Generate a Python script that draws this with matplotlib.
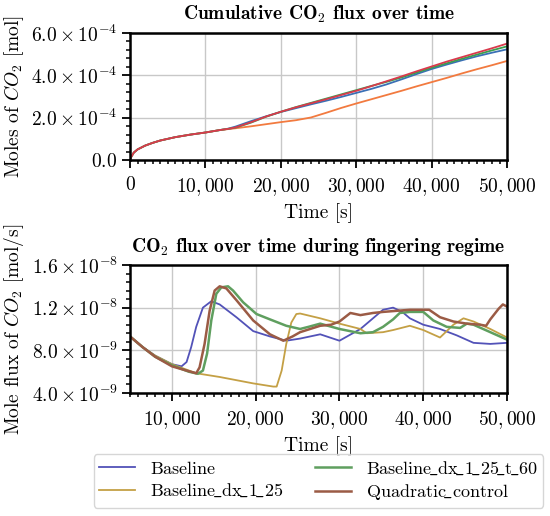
import numpy as np
import matplotlib
matplotlib.use("Agg")
import matplotlib.pyplot as plt
from matplotlib.ticker import FixedLocator, MultipleLocator, FuncFormatter

plt.rcParams["font.family"] = "serif"
plt.rcParams["font.serif"] = ["cmr10"]
plt.rcParams["mathtext.fontset"] = "cm"
plt.rcParams["axes.formatter.use_mathtext"] = True
plt.rcParams["font.size"] = 14

labels = [r"$\mathrm{Baseline}$", r"$\mathrm{Baseline\!\_dx\!\_1\!\_25}$",
          r"$\mathrm{Baseline\!\_dx\!\_1\!\_25\!\_t\!\_60}$", r"$\mathrm{Quadratic\!\_control}$"]

# cumulative CO2 [1e-4 mol]
t_cum = [0, 500, 1000, 2000, 3000, 4000, 6000, 8000, 10000, 12000, 13000, 14000, 16000,
         18000, 20000, 22000, 24000, 26000, 28000, 30000, 32000, 34000, 36000, 38000,
         40000, 42000, 44000, 46000, 48000, 50000]
cum_base = [0.05, 0.35, 0.5, 0.68, 0.81, 0.92, 1.08, 1.2, 1.3, 1.42, 1.48, 1.58, 1.83,
            2.06, 2.27, 2.45, 2.63, 2.8, 2.98, 3.17, 3.36, 3.57, 3.81, 4.06,
            4.3, 4.51, 4.71, 4.9, 5.07, 5.23]
cum_dx = [0.05, 0.35, 0.5, 0.68, 0.81, 0.92, 1.08, 1.2, 1.3, 1.42, 1.46, 1.5, 1.59,
          1.69, 1.79, 1.88, 2.01, 2.23, 2.46, 2.67, 2.87, 3.07, 3.27, 3.48,
          3.68, 3.88, 4.09, 4.29, 4.48, 4.68]
cum_t60 = [0.05, 0.35, 0.5, 0.68, 0.81, 0.92, 1.08, 1.2, 1.3, 1.42, 1.47, 1.53, 1.76,
           2.04, 2.28, 2.5, 2.7, 2.9, 3.1, 3.3, 3.5, 3.69, 3.9, 4.13,
           4.36, 4.57, 4.78, 4.98, 5.18, 5.37]
cum_quad = [0.05, 0.35, 0.5, 0.68, 0.81, 0.92, 1.08, 1.2, 1.3, 1.42, 1.47, 1.54, 1.78,
            2.05, 2.28, 2.49, 2.68, 2.87, 3.07, 3.27, 3.49, 3.72, 3.95, 4.19,
            4.42, 4.65, 4.86, 5.07, 5.28, 5.5]

# CO2 flux [1e-9 mol/s]
t_base = [5000, 6500, 8000, 10000, 11150, 11750, 12300, 12900, 13700, 14700, 15700, 17700,
          19700, 21700, 23650, 25300, 27700, 30000, 32500, 34000, 35200, 36400, 37500,
          38400, 40000, 42000, 44000, 46000, 48000, 50000]
flux_base = [9.3, 8.3, 7.5, 6.7, 6.5, 6.9, 8.3, 10.2, 12.0, 12.6, 12.3, 11.1,
             9.8, 9.3, 8.9, 9.1, 9.5, 8.9, 10.0, 11.0, 11.8, 12.0, 11.6,
             11.0, 10.4, 10.0, 9.4, 8.7, 8.6, 8.7]
t_dx = [5000, 6500, 8000, 10000, 12900, 15700, 19700, 22100, 22500, 23100, 23650, 24250,
        24850, 25300, 27700, 30000, 32500, 33250, 35200, 36400, 38400, 40000, 42000,
        43600, 44800, 46000, 48000, 50000]
flux_dx = [9.3, 8.3, 7.5, 6.7, 5.85, 5.5, 4.9, 4.6, 4.6, 6.1, 8.6, 10.6,
           11.4, 11.45, 11.0, 10.5, 10.0, 9.6, 9.7, 9.9, 10.3, 9.9, 9.2,
           10.4, 11.0, 10.7, 10.0, 9.2]
t_t60 = [5000, 6500, 8000, 10000, 12000, 13100, 13700, 14200, 14700, 15300, 15900, 16700,
         17300, 18500, 20100, 21700, 23650, 25300, 26300, 27700, 30000, 32500, 34000,
         35200, 36400, 37200, 38400, 40000, 41200, 42800, 44400, 45200, 46000, 48000, 50000]
flux_t60 = [9.3, 8.3, 7.4, 6.6, 6.0, 5.8, 6.1, 7.7, 10.8, 13.3, 13.9, 14.0,
            13.6, 12.5, 11.4, 10.9, 10.3, 10.0, 10.2, 10.5, 10.0, 9.6, 9.7,
            10.2, 10.9, 11.5, 11.6, 11.6, 10.8, 10.2, 10.1, 10.5, 10.4, 9.7, 9.0]
t_quad = [5000, 6500, 8000, 10000, 11750, 12900, 13300, 13900, 14500, 15100, 15700, 16500,
          17700, 19700, 21700, 23300, 24400, 25300, 27700, 29000, 30000, 31300, 32500,
          34000, 35200, 38400, 40700, 42000, 43600, 45200, 46800, 47500, 48000, 49000,
          49500, 50000]
flux_quad = [9.3, 8.3, 7.4, 6.5, 6.1, 5.85, 6.4, 8.6, 11.7, 13.6, 14.0, 13.8,
             12.7, 10.8, 9.5, 8.9, 9.3, 9.7, 10.3, 10.4, 10.7, 11.5, 11.3,
             11.5, 11.6, 11.8, 11.8, 11.1, 10.7, 10.5, 10.4, 10.3, 10.9, 11.9,
             12.3, 12.1]

top_colors = ["#3b70b5", "#f27a3f", "#3a9f4f", "#d93a4c"]
bot_colors = ["#5252b8", "#c4a045", "#5f9f5f", "#9b5b45"]


def fmt_x(v, pos):
    if v == 0:
        return "$0$"
    return "$" + "{:,}".format(int(v)) + "$"


def fmt_sci(v, pos):
    if v == 0:
        return "$0.0$"
    e = int(np.floor(np.log10(abs(v))))
    m = v / 10.0 ** e
    return r"$%.1f\times10^{%d}$" % (m, e)


def style_axes(ax):
    for s in ax.spines.values():
        s.set_linewidth(1.8)
        s.set_color("black")
    ax.grid(True, which="major", color="#c8c8c8", linewidth=1.0)
    ax.set_axisbelow(True)
    ax.tick_params(which="major", direction="out", length=5.5, width=1.3, top=False, right=False)
    ax.tick_params(which="minor", direction="out", length=3, width=1.1, top=False, right=False)
    ax.tick_params(axis="x", which="major", pad=6)
    ax.xaxis.set_major_formatter(FuncFormatter(fmt_x))
    ax.yaxis.set_major_formatter(FuncFormatter(fmt_sci))


fig = plt.figure(figsize=(5.5, 5.16), dpi=100)
ax1 = fig.add_axes([0.2364, 0.6899, 0.6855, 0.2461])
ax2 = fig.add_axes([0.2364, 0.2384, 0.6855, 0.2481])

cums = [cum_base, cum_dx, cum_t60, cum_quad]
for c, col in zip(cums, top_colors):
    ax1.plot(t_cum, np.array(c) * 1e-4, color=col, linewidth=1.3)
ax1.set_xlim(0, 50000)
ax1.set_ylim(0, 6e-4)
ax1.xaxis.set_major_locator(MultipleLocator(10000))
ax1.xaxis.set_minor_locator(MultipleLocator(1000))
ax1.yaxis.set_major_locator(FixedLocator([0, 2e-4, 4e-4, 6e-4]))
ax1.yaxis.set_minor_locator(MultipleLocator(4e-5))
style_axes(ax1)
ax1.set_xlabel("Time [s]")
ax1.set_ylabel("Moles of $CO_2$ [mol]")
ax1.set_title(r"Cumulative $\mathbf{CO_2}$ flux over time", fontfamily="cmb10",
              fontsize=14, pad=10)

fluxes = [(t_base, flux_base), (t_dx, flux_dx), (t_t60, flux_t60), (t_quad, flux_quad)]
widths = [1.3, 1.3, 1.8, 1.8]
lines = []
for (t, f), col, lw, lab in zip(fluxes, bot_colors, widths, labels):
    ln, = ax2.plot(t, np.array(f) * 1e-9, color=col, linewidth=lw, label=lab)
    lines.append(ln)
ax2.set_xlim(5000, 50000)
ax2.set_ylim(4e-9, 1.6e-8)
ax2.xaxis.set_major_locator(FixedLocator([10000, 20000, 30000, 40000, 50000]))
ax2.xaxis.set_minor_locator(MultipleLocator(1000))
ax2.yaxis.set_major_locator(FixedLocator([4e-9, 8e-9, 1.2e-8, 1.6e-8]))
ax2.yaxis.set_minor_locator(MultipleLocator(8e-10))
style_axes(ax2)
ax2.set_xlabel("Time [s]")
ax2.set_ylabel("Mole flux of $CO_2$ [mol/s]")
ax2.set_title(r"$\mathbf{CO_2}$ flux over time during fingering regime", fontfamily="cmb10",
              fontsize=14, pad=9)

fig.legend(handles=lines, loc="upper center", bbox_to_anchor=(0.579, 0.12), ncol=2,
           fontsize=13, frameon=True, fancybox=True, edgecolor="#cccccc", borderaxespad=0,
           handlelength=2.0, columnspacing=1.8, handletextpad=0.8,
           labelspacing=0.3, borderpad=0.3)

fig.savefig("out.png", dpi=100)
